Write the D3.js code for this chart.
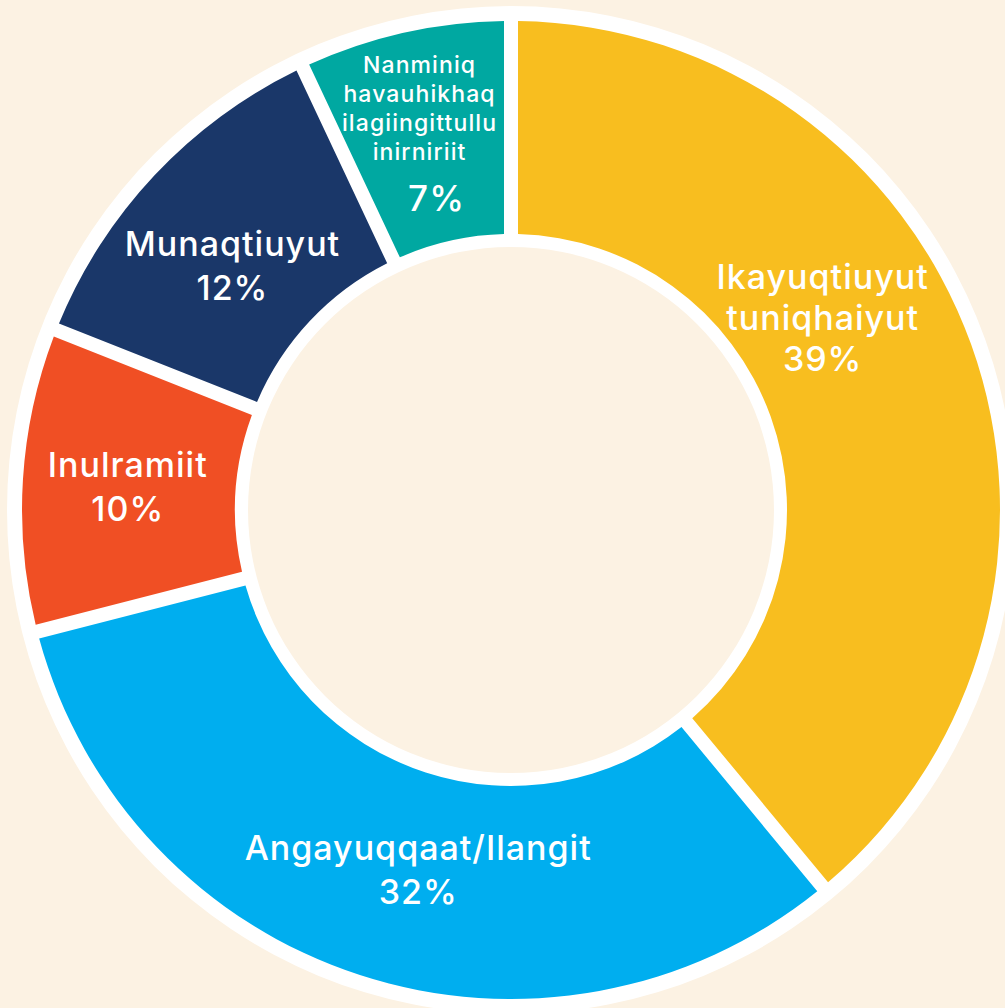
<!DOCTYPE html>
<html>
<head>
<meta charset="utf-8">
<script src="https://cdn.jsdelivr.net/npm/d3@7"></script>
<style>
  html, body { margin: 0; padding: 0; background: #fcf2e3; }
  svg { display: block; }
</style>
</head>
<body>
<div id="chart"></div>
<script>
// data
var categories = [
	["Ikayuqtiuyut", "tuniqhaiyut"],
	["Angayuqqaat/Ilangit"],
	["Inulramiit"],
	["Munaqtiuyut"],
	["Nanminiq", "havauhikhaq", "ilagiingittullu", "inirniriit"]
];
var values = [39, 32, 10, 12, 7];
var colors = ["#f8be1f", "#00aeef", "#f04f24", "#1a3769", "#00a8a1"];

var width = 1005,
	height = 1008;
var cx = 511,
	cy = 510;
var outer = 489,
	inner = 276,
	ring = 14;

// label nudges from the slice centroid (names, then the % line)
var nudge = [[-44, -64], [24, 0], [-6, 0], [-3, 15], [-9, -7]];
var pctShift = [0, 0, 0, 0, 17];

var svg = d3.select("#chart")
	.append("svg")
	.attr("width", width)
	.attr("height", height);

svg.append("rect")
	.attr("width", width)
	.attr("height", height)
	.attr("fill", "#fcf2e3");

var g = svg.append("g")
	.attr("transform", "translate(" + cx + "," + cy + ")");

// white ring behind the slices
g.append("path")
	.attr("d", d3.arc()
		.innerRadius(inner - ring + 1)
		.outerRadius(outer + ring + 1)
		.startAngle(0)
		.endAngle(2 * Math.PI)())
	.attr("fill", "#ffffff");

var pie = d3.pie()
	.sort(null)
	.value(function(d) { return d; });

// gaps between slices come from the arc, so the slice angles stay true
var arc = d3.arc()
	.innerRadius(inner)
	.outerRadius(outer)
	.padRadius(outer)
	.padAngle(ring / outer);

var arcs = pie(values);

g.selectAll("path.slice")
	.data(arcs)
	.enter().append("path")
	.attr("class", "slice")
	.attr("d", arc)
	.attr("fill", function(d, i) { return colors[i]; });

// labels
var labelArc = d3.arc().innerRadius(378).outerRadius(378);

arcs.forEach(function(d, i) {
	var c = labelArc.centroid(d);
	var x = c[0] + nudge[i][0],
		y = c[1] + nudge[i][1];

	var lines = [];
	var small = categories[i].length > 2;
	categories[i].forEach(function(t) {
		lines.push({ text: t, size: small ? 23 : 34, gap: small ? 29 : (i == 0 ? 41 : 44), dx: 0 });
	});
	lines.push({ text: values[i] + "%", size: small ? 35 : 34, gap: small ? 51 : (i == 0 ? 41 : 44), dx: pctShift[i] });

	var span = 0;
	lines.forEach(function(l, j) { if (j > 0) span += l.gap; });
	var base = y - span / 2 + lines[0].size * 0.72 / 2;

	var text = g.append("text")
		.attr("text-anchor", "middle")
		.attr("fill", "#ffffff")
		.style("font-family", "Inter, 'Open Sans', sans-serif")
		.style("font-weight", 500)
		.style("letter-spacing", small ? "1.1px" : "1px");

	lines.forEach(function(l, j) {
		if (j > 0) base += l.gap;
		text.append("tspan")
			.attr("x", x + l.dx)
			.attr("y", base)
			.style("font-size", l.size + "px")
			.text(l.text);
	});
});
</script>
</body>
</html>
